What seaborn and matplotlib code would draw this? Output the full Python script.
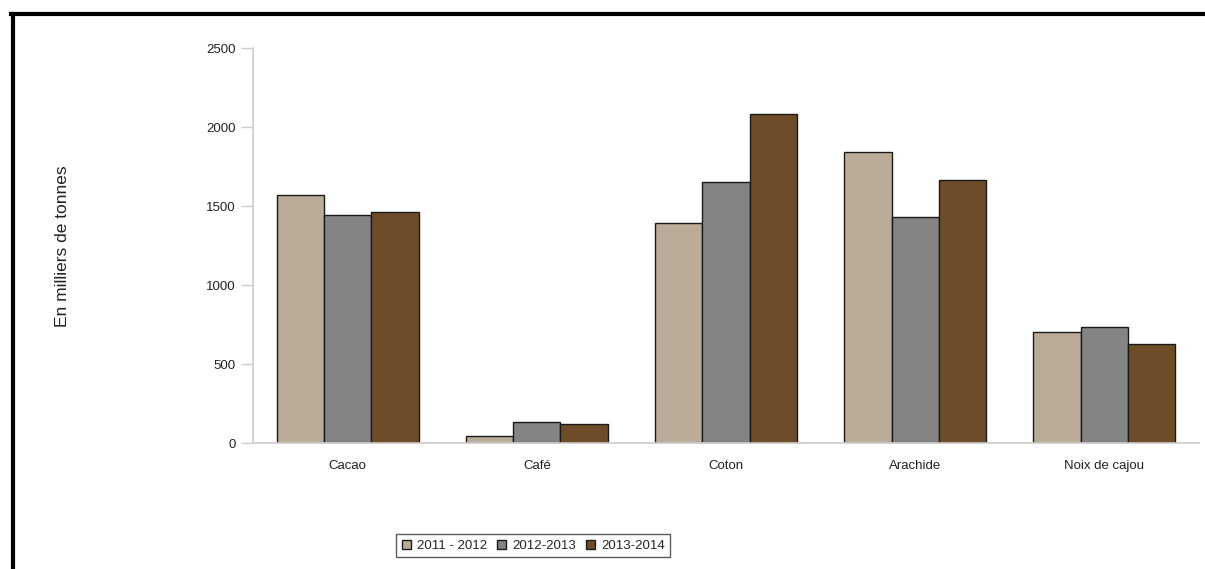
import matplotlib.pyplot as plt
import pandas as pd
import seaborn as sns
from matplotlib.lines import Line2D

categories = ["Cacao", "Café", "Coton", "Arachide", "Noix de cajou"]
seasons = ["2011 - 2012", "2012-2013", "2013-2014"]
vals_2011_2012 = [1570, 44, 1392, 1842, 702]
vals_2012_2013 = [1443, 133, 1652, 1430, 734]
vals_2013_2014 = [1462, 118, 2082, 1665, 627]
colors = ["#BBAC99", "#848484", "#6E4C27"]


def main():
    sns.set_theme(style="white")
    plt.rcParams["font.family"] = ["Liberation Sans", "DejaVu Sans"]

    df = pd.DataFrame({
        "produit": categories * 3,
        "saison": [s for s in seasons for _ in categories],
        "valeur": vals_2011_2012 + vals_2012_2013 + vals_2013_2014,
    })

    fig = plt.figure(figsize=(12.05, 5.69), dpi=100)
    ax = fig.add_axes([0.21, 0.2214, 0.785, 0.6942])

    sns.barplot(
        data=df, x="produit", y="valeur", hue="saison",
        order=categories, hue_order=seasons, palette=colors,
        width=0.75, edgecolor="#1a1a1a", linewidth=1.0,
        saturation=1, ax=ax,
    )

    ax.set_xlim(-0.5, len(categories) - 0.5)
    ax.set_ylim(0, 2500)
    ax.set_yticks(range(0, 2501, 500))
    ax.set_xticks(range(len(categories)))
    ax.set_xticklabels(categories)
    ax.set_xticks([i - 0.5 for i in range(len(categories) + 1)], minor=True)
    ax.tick_params(axis="x", which="major", length=0, pad=12, labelsize=9.5, colors="#222222")
    ax.tick_params(axis="x", which="minor", length=9, width=1, color="#cccccc", direction="out")
    ax.tick_params(axis="y", length=9, width=1, color="#cccccc", labelsize=9.5, labelcolor="#222222", left=True)
    ax.set_xlabel("")
    ax.set_ylabel("")
    fig.text(0.0515, 0.568, "En milliers de tonnes", rotation=90, ha="center", va="center",
             fontsize=12.5, color="#222222")

    for side in ["top", "right"]:
        ax.spines[side].set_visible(False)
    for side in ["left", "bottom"]:
        ax.spines[side].set_color("#cccccc")
        ax.spines[side].set_linewidth(1.2)

    handles, labels = ax.get_legend_handles_labels()
    ax.legend_.remove()
    leg = fig.legend(
        handles, labels, loc="center", bbox_to_anchor=(0.4425, 0.041), ncol=3,
        frameon=True, fancybox=False, fontsize=9.5, handlelength=0.7, handleheight=0.7,
        handletextpad=0.45, columnspacing=0.75, borderpad=0.4,
    )
    leg.get_frame().set_edgecolor("#333333")
    leg.get_frame().set_linewidth(1.0)

    # frame lines of the original picture
    fig.add_artist(Line2D([0.0095, 1.0], [0.975, 0.975], color="black", linewidth=3,
                          solid_capstyle="projecting", transform=fig.transFigure))
    fig.add_artist(Line2D([0.0105, 0.0105], [0.0, 0.975], color="black", linewidth=3,
                          solid_capstyle="projecting", transform=fig.transFigure))

    fig.savefig("out.png", dpi=100)
    plt.close(fig)


if __name__ == "__main__":
    main()
